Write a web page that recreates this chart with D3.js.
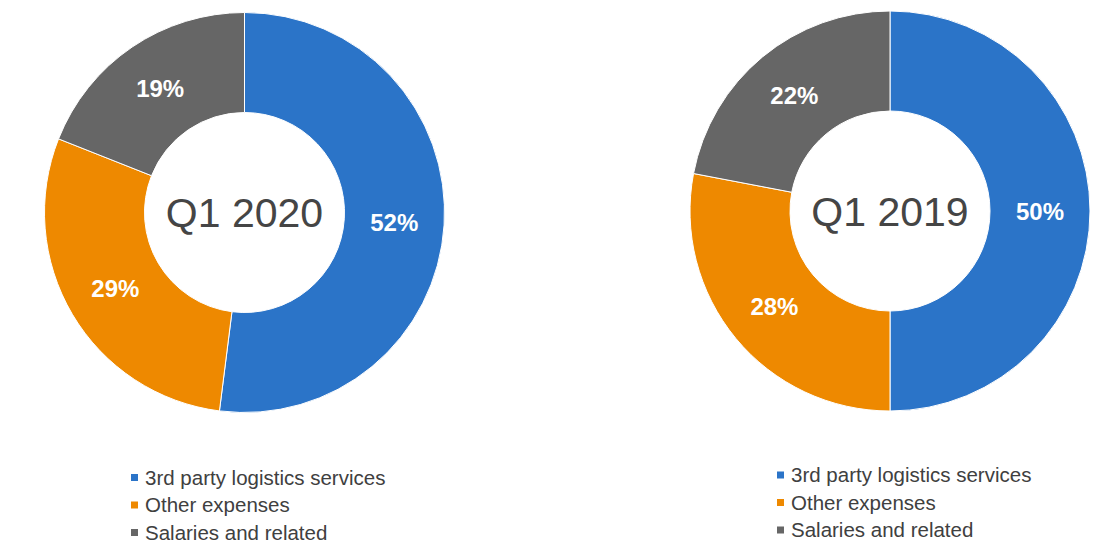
<!DOCTYPE html>
<html>
<head>
<meta charset="utf-8">
<script src="https://cdn.jsdelivr.net/npm/d3@7"></script>
<style>
  body { margin: 0; background: #fff; }
  svg text { font-family: "Liberation Sans", Arial, sans-serif; }
</style>
</head>
<body>
<div id="chart"></div>
<script>
const categories = ["3rd party logistics services", "Other expenses", "Salaries and related"];
const values2020 = [52, 29, 19];
const values2019 = [50, 28, 22];
const centerLabels = ["Q1 2020", "Q1 2019"];
const colors = ["#2B74C8", "#EE8900", "#666666"];

const w = 1095, h = 543;

const svg = d3.select("#chart")
    .append("svg")
    .attr("width", w)
    .attr("height", h);

const color = d3.scaleOrdinal().domain(categories).range(colors);

const pie = d3.pie().sort(null).value(d => d.value);
const arc = d3.arc().innerRadius(100).outerRadius(200);

// one donut per quarter
const donuts = [
    { values: values2020, label: centerLabels[0], cx: 244.5, cy: 212.5, lx: 131, ly: 477.5 },
    { values: values2019, label: centerLabels[1], cx: 890, cy: 211, lx: 777, ly: 475 }
];

donuts.forEach(function (dn) {
    const data = categories.map((c, i) => ({ cat: c, value: dn.values[i] }));
    const g = svg.append("g").attr("transform", "translate(" + dn.cx + "," + dn.cy + ")");

    g.selectAll("path")
        .data(pie(data))
        .enter()
        .append("path")
        .attr("d", arc)
        .attr("fill", d => color(d.data.cat))
        .attr("stroke", "#fff")
        .attr("stroke-width", 1);

    g.selectAll(".pct")
        .data(pie(data))
        .enter()
        .append("text")
        .attr("class", "pct")
        .attr("transform", d => "translate(" + arc.centroid(d) + ")")
        .attr("text-anchor", "middle")
        .attr("dy", "0.36em")
        .attr("fill", "#fff")
        .style("font-weight", "bold")
        .style("font-size", "24px")
        .text(d => d.data.value + "%");

    g.append("text")
        .attr("text-anchor", "middle")
        .attr("dy", "0.36em")
        .attr("fill", "#454545")
        .style("font-size", "41px")
        .text(dn.label);

    // legend
    const leg = svg.append("g").attr("transform", "translate(" + dn.lx + "," + dn.ly + ")");
    const rows = leg.selectAll("g")
        .data(categories)
        .enter()
        .append("g")
        .attr("transform", (d, i) => "translate(0," + i * 27.5 + ")");

    rows.append("rect")
        .attr("x", 0)
        .attr("y", -3.5)
        .attr("width", 7)
        .attr("height", 7)
        .attr("fill", d => color(d));

    rows.append("text")
        .attr("x", 14)
        .attr("dy", "0.35em")
        .attr("fill", "#404040")
        .style("font-size", "20.5px")
        .text(d => d);
});
</script>
</body>
</html>
